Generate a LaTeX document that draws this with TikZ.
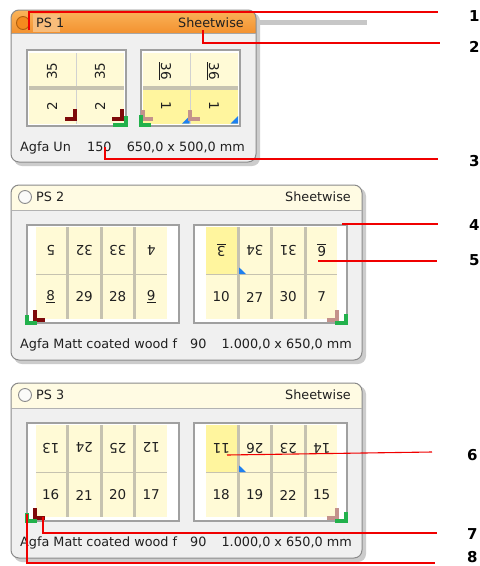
\documentclass[tikz,border=0pt]{standalone}
\usepackage{fontspec}
\setmainfont{DejaVu Sans}
\definecolor{panelbg}{HTML}{F0F0F0}
\definecolor{panelborder}{HTML}{8A8A8A}
\definecolor{creamhead}{HTML}{FFFBE3}
\definecolor{cellc}{HTML}{FFFAD6}
\definecolor{yellowc}{HTML}{FFF59E}
\definecolor{sepc}{HTML}{C6C2B0}
\definecolor{sheetborder}{HTML}{A0A0A0}
\definecolor{orangetop}{HTML}{FAB45A}
\definecolor{orangebot}{HTML}{F39230}
\definecolor{orangelight}{HTML}{F8BC7A}
\definecolor{orangedot}{HTML}{F58A1E}
\definecolor{orangering}{HTML}{B0600F}
\definecolor{darkredc}{HTML}{7E0A0A}
\definecolor{greenc}{HTML}{22B14C}
\definecolor{pinkc}{HTML}{C4928C}
\definecolor{bluec}{HTML}{1E80F0}
\definecolor{calloutc}{HTML}{F00000}
\definecolor{textc}{HTML}{202020}
\tikzset{
  txt/.style={inner sep=0, font=\fontsize{12.8}{14}\selectfont, text=textc},
  num/.style={inner sep=0, font=\fontsize{13.5}{15}\selectfont, text=textc},
  lbl/.style={inner sep=0, anchor=west, font=\fontsize{15}{17}\selectfont\bfseries, text=black},
  callout/.style={draw=calloutc, line width=1.1pt},
  shadowbox/.style={fill=black!20, rounded corners=8},
  panelbox/.style={draw=panelborder, line width=1pt, rounded corners=8},
  sheetbox/.style={draw=sheetborder, fill=white, line width=1.2pt},
  dot/.style={circle, minimum size=13pt, inner sep=0, line width=0.9pt}
}
\newcommand{\widepanel}[7]{%
\begin{scope}[shift={(0,#3)}]
  \fill[shadowbox] (14,188) rectangle (366,364);
  \fill[panelbg, rounded corners=8] (11,185) rectangle (362,360);
  \begin{scope}
    \clip[rounded corners=8] (11,185) rectangle (362,360);
    \fill[creamhead] (11,185) rectangle (362,210);
  \end{scope}
  \draw[panelbox] (11,185) rectangle (362,360);
  \draw[black!30] (11.5,210) -- (361.5,210);
  \node[dot, fill=creamhead!80!black!8, draw=black!45] (#1c) at (25,197) {};
  \node[txt, anchor=base west] (#1t) at (36,201.5) {#2};
  \node[txt, anchor=base east] (#1s) at (351,201.5) {Sheetwise};
  % left sheet
  \draw[sheetbox] (27,225) rectangle (179,323);
  \fill[sepc] (35.5,227) rectangle (166.5,319);
  \foreach \x in {35.5,69,102.5,136} {
    \fill[cellc] (\x,227) rectangle ++(30.5,46.5);
    \fill[cellc] (\x,274.5) rectangle ++(30.5,44.5);
  }
  % right sheet
  \draw[sheetbox] (194,225) rectangle (347,323);
  \fill[sepc] (206,227) rectangle (337,319);
  \foreach \x in {206,239.5,273,306.5} {
    \fill[cellc] (\x,227) rectangle ++(30.5,46.5);
    \fill[cellc] (\x,274.5) rectangle ++(30.5,44.5);
  }
  \fill[yellowc] (206,227) rectangle ++(30.5,46.5);
  \fill[bluec] (239.2,267.5) -- (239.2,274) -- (246,274) -- cycle;
  % page numbers
  \foreach \lab [count=\i from 0] in {#4}
    \node[num, rotate=180] (#1lt\i) at ({50.75+33.5*\i},250) {\lab};
  \foreach \lab [count=\i from 0] in {#5}
    \node[num] (#1lb\i) at ({50.75+33.5*\i},297) {\lab};
  \foreach \lab [count=\i from 0] in {#6}
    \node[num, rotate=180] (#1rt\i) at ({221.25+33.5*\i},250) {\lab};
  \foreach \lab [count=\i from 0] in {#7}
    \node[num] (#1rb\i) at ({221.25+33.5*\i},297) {\lab};
  % corner marks
  \fill[darkredc] (33,310) rectangle (37,322);
  \fill[darkredc] (33,318) rectangle (45,322);
  \fill[greenc] (25,315) rectangle (29,325);
  \fill[greenc] (25,321) rectangle (37,325);
  \fill[pinkc] (335,310) rectangle (339,322);
  \fill[pinkc] (327,318) rectangle (339,322);
  \fill[greenc] (344,314) rectangle (348,325);
  \fill[greenc] (335,321) rectangle (348,325);
  % footer
  \node[txt, anchor=base west] (#1m) at (20,348) {Agfa Matt coated wood f};
  \node[txt, anchor=base west] (#1w) at (190,348) {90};
  \node[txt, anchor=base east] (#1f) at (352,348) {1.000,0 x 650,0 mm};
\end{scope}}
\begin{document}
\begin{tikzpicture}[x=1pt,y=-1pt]
\useasboundingbox[fill=white] (0,0) rectangle (480,566);
% ---------- panel 1 ----------
\fill[black!22] (256,20) rectangle (367,25);
\fill[shadowbox] (14,13) rectangle (260,166);
\fill[panelbg, rounded corners=8] (11,10) rectangle (256,162);
\begin{scope}
  \clip[rounded corners=8] (11,10) rectangle (256,162);
  \shade[top color=orangetop, bottom color=orangebot] (11,10) rectangle (256,33);
\end{scope}
\draw[panelbox] (11,10) rectangle (256,162);
\draw[black!35] (11.5,33) -- (255.5,33);
\fill[orangelight] (33,13.5) rectangle (60,32);
\node[dot, fill=orangedot, draw=orangering] (p1c) at (23,23) {};
\node[txt, anchor=base west] (p1t) at (36,27.5) {PS 1};
\node[txt, anchor=base east] (p1s) at (244,27.5) {Sheetwise};
% left sheet
\draw[sheetbox] (27,50) rectangle (126,126);
\fill[black!18] (29,53) rectangle (124,124);
\fill[sepc] (29,86) rectangle (124,89.5);
\foreach \x in {29,77} {
  \fill[cellc] (\x,53) rectangle ++(46.5,33);
  \fill[cellc] (\x,89.5) rectangle ++(46.5,34.5);
}
% right sheet
\draw[sheetbox] (141,50) rectangle (240,126);
\fill[black!18] (143,53) rectangle (238,124);
\fill[sepc] (143,86) rectangle (238,89.5);
\foreach \x in {143,191} {
  \fill[cellc] (\x,53) rectangle ++(46.5,33);
  \fill[yellowc] (\x,89.5) rectangle ++(46.5,34.5);
}
\node[num, rotate=90] (p1a) at (52,71) {35};
\node[num, rotate=90] (p1b) at (100,71) {35};
\node[num, rotate=90] (p1c2) at (52,106) {2};
\node[num, rotate=90] (p1d) at (100,106) {2};
\node[num, rotate=-90] (p1e) at (165,71) {\underline{36}};
\node[num, rotate=-90] (p1f) at (213,71) {\underline{36}};
\node[num, rotate=-90] (p1g) at (166,106) {1};
\node[num, rotate=-90] (p1h) at (214,106) {1};
\fill[bluec] (182,123.5) -- (189.5,123.5) -- (189.5,116) -- cycle;
\fill[bluec] (230.5,123.5) -- (238,123.5) -- (238,116) -- cycle;
% marks panel 1
\fill[darkredc] (73,109) rectangle (77,121);
\fill[darkredc] (65,117) rectangle (77,121);
\fill[darkredc] (120,109) rectangle (124,121);
\fill[darkredc] (112,117) rectangle (124,121);
\fill[greenc] (124,116) rectangle (128,127);
\fill[greenc] (113,123) rectangle (128,127);
\fill[pinkc] (141,110) rectangle (145,121);
\fill[pinkc] (141,117) rectangle (153,121);
\fill[pinkc] (188,110) rectangle (192,121);
\fill[pinkc] (188,117) rectangle (200,121);
\fill[greenc] (139,115) rectangle (143,127);
\fill[greenc] (139,123) rectangle (151,127);
\node[txt, anchor=base west] (p1m) at (20,151) {Agfa Un};
\node[txt, anchor=base west] (p1w) at (87,151) {150};
\node[txt, anchor=base east] (p1f2) at (245,151) {650,0 x 500,0 mm};
% ---------- panels 2 and 3 ----------
\widepanel{p2}{PS 2}{0}{5,32,33,4}{\underline{8},29,28,\underline{9}}{\underline{3},34,31,\underline{6}}{10,27,30,7}
\widepanel{p3}{PS 3}{198}{13,24,25,12}{16,21,20,17}{11,26,23,14}{18,19,22,15}
% ---------- callouts ----------
\coordinate (a1) at (29,30);   \coordinate (b1) at (438,12);
\coordinate (a2) at (203,30);  \coordinate (b2) at (440,43);
\coordinate (a3) at (105,147); \coordinate (b3) at (438,159);
\coordinate (a4) at (342,224); \coordinate (b4) at (438,224);
\coordinate (a5) at (318,261); \coordinate (b5) at (437,261);
\coordinate (a6) at (227,455); \coordinate (b6) at (432,452);
\coordinate (a7) at (43,517);  \coordinate (b7) at (437,533);
\coordinate (a8) at (27,514);  \coordinate (b8) at (435,563);
\draw[callout] (a1) |- (b1);
\draw[callout] (a2) |- (b2);
\draw[callout] (a3) |- (b3);
\draw[callout] (a4) -- (b4);
\draw[callout] (a5) -- (b5);
\draw[callout] (a6) -- (b6);
\draw[callout] (a7) |- (b7);
\draw[callout] (a8) |- (b8);
\node[lbl] (l1) at (469,16) {1};
\node[lbl] (l2) at (469,47) {2};
\node[lbl] (l3) at (469,161) {3};
\node[lbl] (l4) at (469,225) {4};
\node[lbl] (l5) at (469,260) {5};
\node[lbl] (l6) at (467,455) {6};
\node[lbl] (l7) at (467,534) {7};
\node[lbl] (l8) at (467,557) {8};
\end{tikzpicture}
\end{document}
